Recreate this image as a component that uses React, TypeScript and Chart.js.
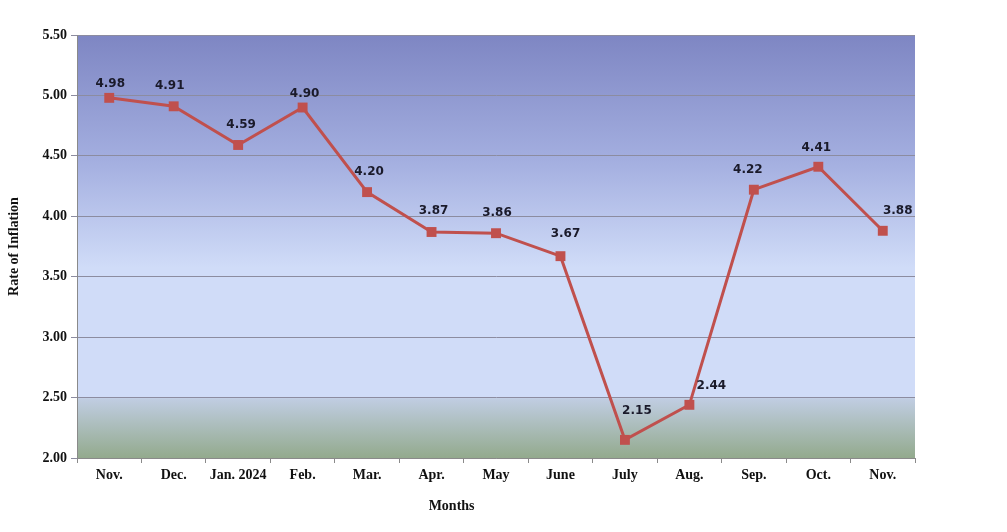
import React, { useEffect, useRef } from "react";
import { Chart, registerables } from "chart.js";

Chart.register(...registerables);

const months = ["Nov.", "Dec.", "Jan. 2024", "Feb.", "Mar.", "Apr.", "May", "June", "July", "Aug.", "Sep.", "Oct.", "Nov."];
const inflation = [4.98, 4.91, 4.59, 4.9, 4.2, 3.87, 3.86, 3.67, 2.15, 2.44, 4.22, 4.41, 3.88];
const yTicks = [2.0, 2.5, 3.0, 3.5, 4.0, 4.5, 5.0, 5.5];
const labelDx = [1, -4, 3, 2, 2, 2, 1, 5, 12, 22, -6, -2, 15];
const labelDy = [-14, -20, -20, -14, -20, -21, -20, -22, -29, -19, -20, -19, -20];

const bgPlugin = {
  id: "bgGradient",
  beforeDraw(chart: any) {
    const { ctx, chartArea: a } = chart;
    const g = ctx.createLinearGradient(0, a.top, 0, a.bottom);
    g.addColorStop(0, "#7e86c3");
    g.addColorStop(0.3, "#a4afe0");
    g.addColorStop(0.55, "#d0dcf8");
    g.addColorStop(0.855, "#d0dcf8");
    g.addColorStop(0.86, "#c0cde2");
    g.addColorStop(1, "#93aa8d");
    ctx.save();
    ctx.fillStyle = g;
    ctx.fillRect(a.left, a.top, a.right - a.left, a.bottom - a.top);
    ctx.restore();
  },
};

const labelPlugin = {
  id: "pointLabels",
  afterDatasetsDraw(chart: any) {
    const { ctx } = chart;
    const meta = chart.getDatasetMeta(0);
    ctx.save();
    ctx.font = "bold 12px 'DejaVu Sans'";
    ctx.fillStyle = "#1a1a2a";
    ctx.textAlign = "center";
    ctx.textBaseline = "middle";
    meta.data.forEach((pt: any, i: number) => {
      ctx.fillText(inflation[i].toFixed(2), pt.x + labelDx[i], pt.y + labelDy[i]);
    });
    ctx.restore();
  },
};

const titlePlugin = {
  id: "axisTitles",
  afterDraw(chart: any) {
    const { ctx, chartArea: a } = chart;
    ctx.save();
    ctx.font = "bold 14px 'Liberation Serif'";
    ctx.fillStyle = "#111";
    ctx.textAlign = "center";
    ctx.textBaseline = "middle";
    ctx.fillText("Months", a.left + (a.right - a.left) * 0.447, 506);
    ctx.translate(14, (a.top + a.bottom) / 2);
    ctx.rotate(-Math.PI / 2);
    ctx.fillText("Rate of Inflation", 0, 0);
    ctx.restore();
  },
};

export default function App() {
  const ref = useRef<HTMLCanvasElement>(null);
  useEffect(() => {
    if (!ref.current) return;
    const chart = new Chart(ref.current, {
      type: "line",
      data: {
        labels: months,
        datasets: [
          {
            data: inflation,
            borderColor: "#c0504d",
            backgroundColor: "#c0504d",
            borderWidth: 3,
            pointStyle: "rect",
            pointRadius: 7,
            pointBorderWidth: 0,
            pointBackgroundColor: "#c0504d",
            tension: 0,
          },
        ],
      },
      options: {
        animation: false,
        responsive: false,
        layout: { padding: { left: 0, right: 92, top: 35, bottom: 0 } },
        plugins: { legend: { display: false }, tooltip: { enabled: false } },
        scales: {
          x: {
            offset: true,
            afterFit(scale: any) {
              scale.height = 74;
            },
            grid: {
              offset: true,
              drawOnChartArea: false,
              drawTicks: true,
              tickLength: 5,
              color: "#8a8a8a",
            },
            border: { display: true, color: "#8a8a8a", width: 1 },
            ticks: {
              color: "#111",
              font: { family: "'Liberation Serif'", size: 14, weight: "bold" },
              padding: 4,
              maxRotation: 0,
              autoSkip: false,
            },
          },
          y: {
            min: 2,
            max: 5.5,
            afterFit(scale: any) {
              scale.width = 77;
            },
            afterBuildTicks(scale: any) {
              scale.ticks = yTicks.map((v) => ({ value: v }));
            },
            grid: {
              color: "#8c8ca0",
              lineWidth: 1,
              drawTicks: true,
              tickLength: 6,
            },
            border: { display: true, color: "#8a8a8a", width: 1 },
            ticks: {
              color: "#111",
              font: { family: "'Liberation Serif'", size: 14, weight: "bold" },
              padding: 4,
              callback: (v: any) => Number(v).toFixed(2),
            },
          },
        },
      },
      plugins: [bgPlugin, labelPlugin, titlePlugin],
    });
    return () => chart.destroy();
  }, []);
  return (
    <div style={{ position: "fixed", left: 0, top: 0, width: 1007, height: 532, background: "#fff" }}>
      <canvas ref={ref} width={1007} height={532} style={{ width: 1007, height: 532 }} />
    </div>
  );
}
